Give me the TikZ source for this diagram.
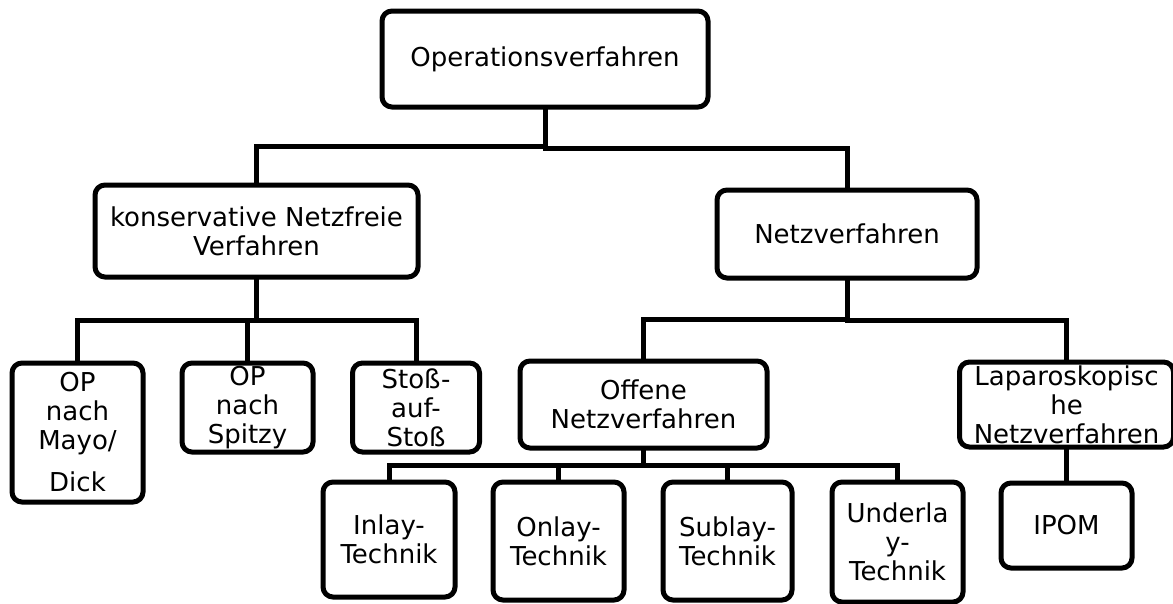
\documentclass[tikz,border=0pt]{standalone}
\usepackage{fontspec}
\setmainfont{DejaVu Sans}
\usepackage{tikz}
\usetikzlibrary{calc}

\begin{document}
\begin{tikzpicture}[x=1pt,y=-1pt]
  \tikzstyle{box}=[draw, line width=5pt, rounded corners=10pt, inner sep=0pt,
    align=center, font=\fontsize{26}{29}\selectfont]
  \tikzstyle{elbow}=[to path={(\tikztostart.south)
    |- ($(\tikztostart.south)!.5!(\tikztotarget.north)$) -| (\tikztotarget.north)}]

  \useasboundingbox (0,0) rectangle (1173,603);

  \node[box, minimum width=326pt, minimum height=96pt]  (op) at (545, 59)    {Operationsverfahren};
  \node[box, minimum width=323pt, minimum height=92pt]  (kn) at (256.5, 231) {konservative Netzfreie\\Verfahren};
  \node[box, minimum width=260pt, minimum height=88pt]  (nv) at (847, 234)   {Netzverfahren};

  \node[box, minimum width=131pt, minimum height=139pt] (my) at (77.5, 432.5)  {OP\\nach\\Mayo/\\[13pt]Dick};
  \node[box, minimum width=131pt, minimum height=89pt]  (sp) at (247.5, 407.5) {OP\\nach\\Spitzy};
  \node[box, minimum width=127pt, minimum height=89pt]  (st) at (416, 407.5)   {Stoß-\\auf-\\Stoß};
  \node[box, minimum width=247pt, minimum height=87pt]  (on) at (643.5, 404.5) {Offene\\Netzverfahren};
  \node[box, minimum width=214pt, minimum height=85pt]  (lp) at (1066.5, 404.5) {Laparoskopisc\\he\\Netzverfahren};

  \node[box, minimum width=132pt, minimum height=115pt] (il) at (389, 539.5)   {Inlay-\\Technik};
  \node[box, minimum width=131pt, minimum height=118pt] (ol) at (558.5, 541)   {Onlay-\\Technik};
  \node[box, minimum width=129pt, minimum height=118pt] (sl) at (727.5, 541)   {Sublay-\\Technik};
  \node[box, minimum width=131pt, minimum height=120pt] (ul) at (897.5, 542)   {Underla\\y-\\Technik};
  \node[box, minimum width=131pt, minimum height=85pt]  (ip) at (1066.5, 525.5) {IPOM};

  \path[line width=5pt, line cap=rect]
  (op) edge[elbow] (kn)
  (op) edge[elbow] (nv)
  (kn) edge[elbow] (my)
  (kn) edge[elbow] (sp)
  (kn) edge[elbow] (st)
  (nv) edge[elbow] (on)
  (nv) edge[elbow] (lp)
  (on) edge[elbow] (il)
  (on) edge[elbow] (ol)
  (on) edge[elbow] (sl)
  (on) edge[elbow] (ul)
  (lp) edge[elbow] (ip);
\end{tikzpicture}
\end{document}
